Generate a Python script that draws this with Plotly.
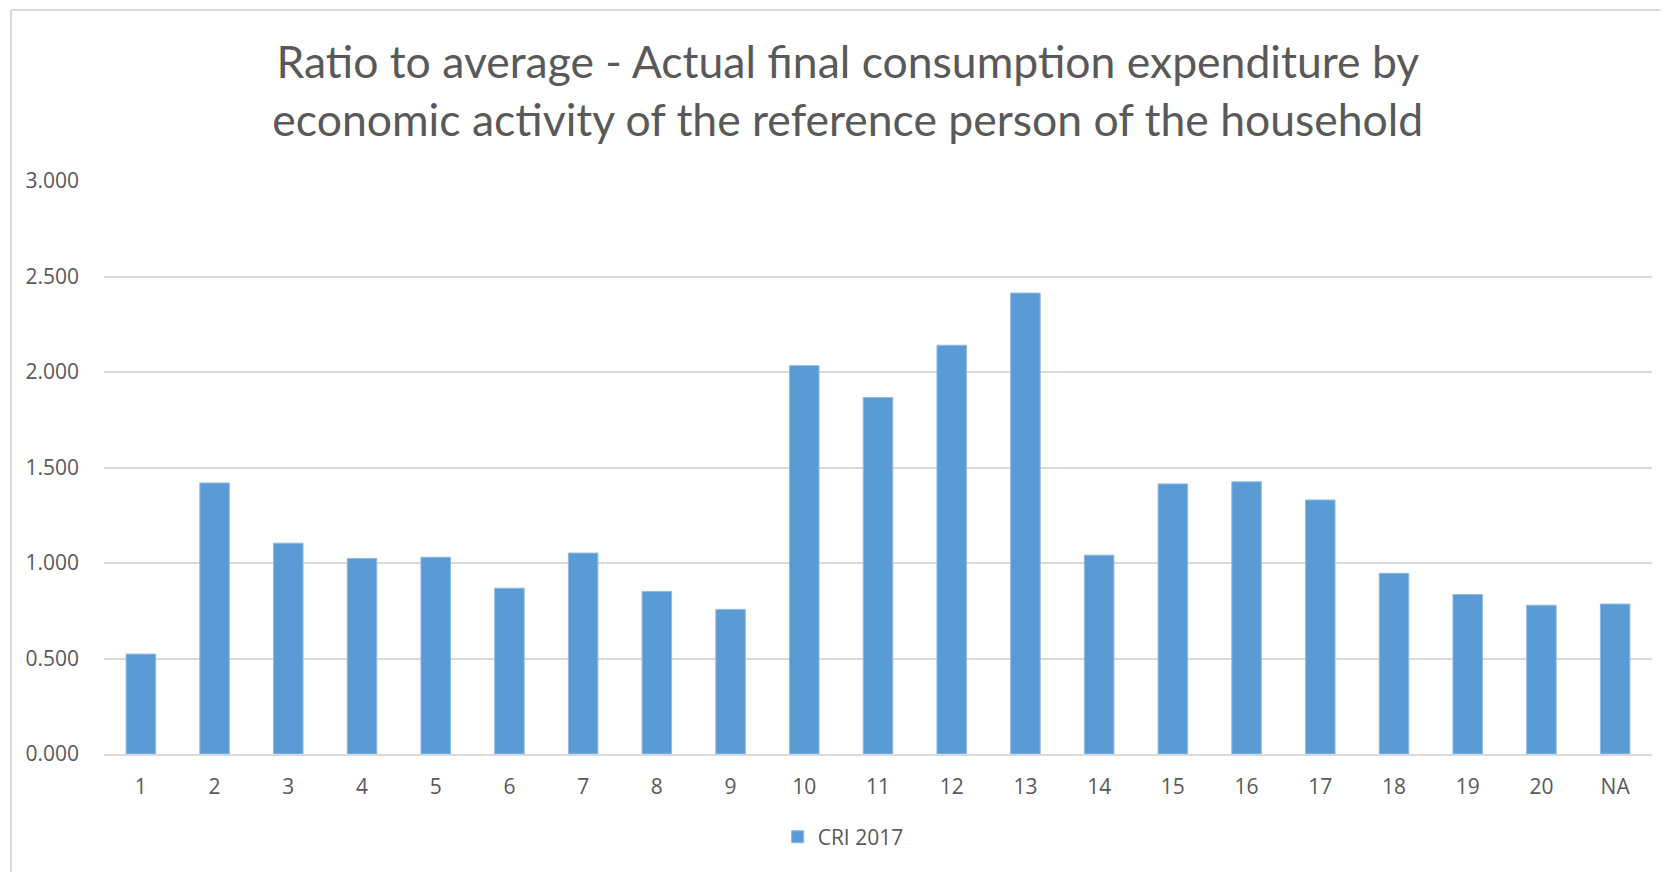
import plotly.graph_objects as go

categories = ["1", "2", "3", "4", "5", "6", "7", "8", "9", "10", "11", "12",
              "13", "14", "15", "16", "17", "18", "19", "20", "NA"]
cri_2017 = [0.523, 1.419, 1.104, 1.024, 1.030, 0.868, 1.052, 0.851, 0.757,
            2.033, 1.866, 2.140, 2.413, 1.041, 1.414, 1.425, 1.330, 0.946,
            0.835, 0.779, 0.785]
y_ticks = [0, 0.5, 1.0, 1.5, 2.0, 2.5, 3.0]
y_tick_labels = ["0.000", "0.500", "1.000", "1.500", "2.000", "2.500", "3.000"]

title_text = ("Ratio to average - Actual final consumption expenditure by<br>"
              "economic activity of the reference person of the household")

# page offset of the figure (body margin)
OFF = 8
PL, PR, PT, PB = 104, 1652, 181, 754  # target plot area in page pixels
PW, PH = PR - PL, PB - PT

fig = go.Figure()
fig.add_trace(go.Bar(
    x=categories, y=cri_2017, name="CRI 2017",
    marker=dict(color="#5B9BD5", line=dict(color="#8DB8E3", width=1)),
))

fig.update_layout(
    width=1669, height=872,
    margin=dict(l=PL - OFF, r=1669 - (PR - OFF), t=PT - OFF, b=872 - (PB - OFF)),
    paper_bgcolor="white", plot_bgcolor="white",
    bargap=0.6,
    title=dict(text=title_text, x=0.4805, xref="paper", xanchor="center",
               y=1 - 70 / 872, yanchor="middle",
               font=dict(family="Lato", size=44.5, color="#595959")),
    font=dict(family="Open Sans", size=21, color="#595959"),
    showlegend=True,
    legend=dict(orientation="h", x=0.4775, xanchor="center", y=-0.145, yanchor="middle",
                font=dict(family="Open Sans", size=21, color="#595959")),
    xaxis=dict(showgrid=False, showline=True, linecolor="#D9D9D9", linewidth=2,
               ticks="", ticklabelstandoff=13, tickfont=dict(size=21, color="#595959")),
    yaxis=dict(range=[0, 3], tickvals=y_ticks, ticktext=y_tick_labels,
               showgrid=True, gridcolor="#D9D9D9", gridwidth=2,
               zeroline=False, showline=False, ticks="", ticklabelstandoff=24,
               tickfont=dict(size=21, color="#595959")),
    shapes=[
        dict(type="line", xref="paper", yref="paper", x0=(11 - PL) / PW, x1=(11 - PL) / PW,
             y0=(PB - 10) / PH, y1=(PB - 900) / PH, line=dict(color="#D9D9D9", width=2)),
        dict(type="line", xref="paper", yref="paper", x0=(11 - PL) / PW, x1=(1700 - PL) / PW,
             y0=(PB - 10) / PH, y1=(PB - 10) / PH, line=dict(color="#D9D9D9", width=2)),
    ],
)

fig.write_html("out.html")
